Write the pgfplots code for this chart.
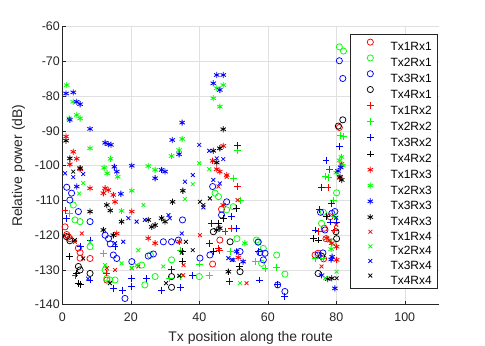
\documentclass[border=0pt]{standalone}
\usepackage{pgfplots}
\pgfplotsset{compat=1.18}
\usepackage{fontspec}
\setmainfont{Liberation Sans}
\begin{document}
\begin{tikzpicture}
\path[use as bounding box] (0,0) rectangle (485bp,346bp);
\begin{axis}[
  at={(62.3bp,41.3bp)}, anchor=south west,
  scale only axis, width=376.7bp, height=278bp,
  xmin=0, xmax=110, ymin=-140, ymax=-60,
  xtick={0,20,...,100}, ytick={-140,-130,...,-60},
  axis x line*=bottom, axis y line*=left,
  axis line style={-, black!85, line width=0.5bp},
  tick align=inside, major tick length=3.5bp,
  tick style={black!85, line width=0.5bp},
  grid=major, major grid style={black!12, line width=0.5bp},
  /pgf/number format/assume math mode=true,
  every tick label/.append style={font=\fontsize{12.5}{14}\selectfont, text=black!85},
  xticklabel style={yshift=-5bp},
  yticklabel style={xshift=1bp},
  xlabel={Tx position along the route}, ylabel={Relative power (dB)},
  label style={font=\fontsize{14}{16}\selectfont, text=black!85},
  xlabel style={at={(axis description cs:0.5,-0.1209)}, anchor=center},
  ylabel style={at={(axis description cs:-0.1163,0.5)}, anchor=center},
  legend style={at={(rel axis cs:0.9947,0.9727)}, anchor=north east,
    draw=black!85, line width=0.5bp, fill=white,
    font=\fontsize{12}{13}\selectfont, text=black,
    inner xsep=5bp, inner ysep=4.5bp, row sep=4.1bp,
    nodes={inner sep=0pt, text height=8.6bp, text depth=0bp},
    /tikz/every odd column/.append style={column sep=6bp}},
  legend cell align=left,
  legend image code/.code={\path (0bp,0bp) (29bp,0bp); \draw[#1] plot coordinates {(15bp,4.3bp)};},
  omark/.style={only marks, mark=o, mark size=3.1bp, mark options={line width=0.75bp}},
  pmark/.style={only marks, mark=+, mark size=3.4bp, mark options={line width=0.8bp}},
  smark/.style={only marks, mark=asterisk, mark size=3.1bp, mark options={line width=0.85bp}},
  xmark/.style={only marks, mark=x, mark size=2.7bp, mark options={line width=0.8bp}},
]
% Tx1Rx1 red o
\addplot[omark, red] coordinates {(0.8,-117.6)(1.3,-119.8)(1.8,-120.5)(2.2,-121)(4.7,-123.7)(5.2,-125)(5.2,-126.6)(8.1,-126.7)(13,-132.9)(43.9,-128.3)(46,-121.4)(46.5,-112.5)(78.2,-114.7)(73.8,-125.7)(74.7,-125.2)(76.3,-126.8)(77,-121)(80.9,-89)(76.5,-118)};
\addlegendentry{Tx1Rx1}
% Tx2Rx1 green o
\addplot[omark, green] coordinates {(3.7,-115.6)(5.2,-116.1)(3.2,-111.3)(8.1,-123.3)(12.5,-130)(13,-132.4)(13.9,-132.9)(15.4,-132.9)(23.2,-128.6)(25.7,-125.7)(24.1,-134.3)(27.1,-131.9)(31.9,-127.1)(40,-131.9)(44.6,-107.9)(45.6,-108.9)(48,-112.7)(49.9,-111.8)(57.2,-121.9)(56.7,-121.4)(58.7,-123.8)(58.2,-128.1)(62.6,-125.7)(65,-131.2)(75.7,-116.6)(76.2,-113.4)(80.1,-107.8)(80.9,-65.8)(82.1,-67)(79,-122)(51,-121)};
\addlegendentry{Tx2Rx1}
% Tx3Rx1 blue o
\addplot[omark, blue] coordinates {(1.3,-106.2)(2.7,-107.9)(2.2,-109.9)(4.7,-113.2)(8.1,-116.1)(12.5,-120)(13.5,-121)(14,-122.5)(14.9,-125.7)(15.9,-126.7)(18.3,-138.2)(20.3,-127.6)(25.1,-126)(26.6,-125.4)(29.5,-121.9)(31.9,-121.9)(33.9,-121.4)(35.1,-115.6)(40.2,-126.6)(43.1,-125.7)(43.9,-106)(46.5,-114.2)(48,-110.4)(51.9,-124.7)(57.2,-122)(57.7,-125)(59.2,-125.2)(58.7,-127.1)(62.9,-134.3)(65,-136.2)(74.7,-125.7)(76.1,-125.1)(75.4,-113.4)(78.7,-113.7)(79.6,-113.2)(76.7,-118.5)(80.9,-69.8)(81.9,-74.9)};
\addlegendentry{Tx3Rx1}
% Tx4Rx1 black o
\addplot[omark, black] coordinates {(1.2,-120.4)(2.2,-121.6)(4.7,-129)(5.2,-130)(8.1,-131)(31.9,-131.9)(31.9,-135)(44.1,-119)(49,-121.9)(51.9,-130.5)(75.7,-126)(74.7,-131)(79.9,-119)(80.1,-121)(81.9,-86.8)(80.6,-88.6)};
\addlegendentry{Tx4Rx1}
% Tx1Rx2 red +
\addplot[pmark, red] coordinates {(0.8,-113)(3.7,-131.7)(12.9,-130.9)(45.6,-123.8)(46,-124.3)(49.5,-118)(51.2,-106)(74.9,-119)(79.4,-118.5)(77.6,-106.2)(47.5,-119)(78,-101)};
\addlegendentry{Tx1Rx2}
% Tx2Rx2 green +
\addplot[pmark, green] coordinates {(2.2,-113.7)(12,-125.2)(34.4,-124.3)(34.4,-131.9)(31.4,-132.4)(40,-128.3)(43.1,-131.5)(49.9,-103.6)(52,-109.9)(51.2,-95.7)(49,-124.7)(56.3,-127.6)(59.2,-129.5)(62.6,-129.2)(79.1,-109.9)(79.6,-114.7)(73.8,-126.7)(76.1,-126.7)(81.1,-91.2)(82.1,-91.5)(76.7,-103)(77.7,-103.3)};
\addlegendentry{Tx2Rx2}
% Tx3Rx2 blue +
\addplot[pmark, blue] coordinates {(1.3,-115.1)(5.2,-123.3)(8.1,-121.4)(8.1,-132.9)(14.9,-135.3)(15.4,-123.3)(17.5,-135.8)(20.3,-132.5)(20.3,-134.8)(24.6,-132.4)(29,-135.8)(31.9,-129.8)(34.4,-135)(38.1,-131.7)(43.1,-122.3)(43.6,-116.6)(49.5,-114.7)(50.9,-118)(48.8,-133.4)(51.2,-94.3)(57.2,-124.7)(57.7,-132.9)(62.9,-134.3)(65,-137.7)(73.8,-118.5)(75.2,-112.7)(78.7,-110.8)(78.3,-116.2)(80.1,-116.2)(75.7,-106.2)(80.9,-94.5)(77,-98.4)};
\addlegendentry{Tx3Rx2}
% Tx4Rx2 black +
\addplot[pmark, black] coordinates {(2.2,-126.2)(4.2,-131)(4.7,-133.8)(5.2,-134.3)(35.1,-124.7)(35.1,-127.6)(44.1,-124.7)(47,-115.1)(45.6,-116.6)(50.9,-112.3)(51.7,-129)(77.2,-114.7)(73.3,-120.9)(74.8,-121.4)};
\addlegendentry{Tx4Rx2}
% Tx1Rx3 red *
\addplot[smark, red] coordinates {(1.1,-91.6)(3.2,-96)(4.2,-98)(2.2,-99.6)(5.2,-101)(8.1,-106.5)(12,-107.9)(13.4,-107)(12.5,-106.5)(14.9,-108.4)(15.4,-110.4)(20.3,-113.2)(15.9,-119.5)(27.1,-122.3)(25.1,-120.9)(34.2,-121.9)(47,-94.3)(43.9,-98.6)(45.1,-101)(46,-101.7)(48,-102.7)(47,-111.3)(51.4,-126.4)(80.1,-127.1)(77.2,-120.9)(78.7,-122.3)(80.1,-123.3)(81,-103.5)(81.5,-99.5)};
\addlegendentry{Tx1Rx3}
% Tx2Rx3 green *
\addplot[smark, green] coordinates {(1.3,-76.8)(3.2,-81.6)(2,-86.4)(4.2,-85.4)(5.2,-86.4)(8.1,-95)(14.1,-98)(12.2,-100.6)(13.1,-102.2)(16.2,-103.2)(20.3,-107.2)(17.3,-113)(25.1,-100.1)(27.1,-101.2)(35,-92.3)(34.1,-95.5)(31.9,-97.2)(47,-76.8)(45.1,-77.7)(44.1,-80.6)(46,-83)(53.3,-122.3)(81.5,-97.5)(81,-98.5)(80,-102)(81.9,-100)(78.5,-124)};
\addlegendentry{Tx2Rx3}
% Tx3Rx3 blue *
\addplot[smark, blue] coordinates {(1.1,-79.2)(3.2,-78.9)(4.2,-81.6)(5.2,-82.3)(2.2,-86.8)(8.1,-89.4)(12.5,-93.4)(13.4,-93.8)(14.2,-94)(15.2,-100.3)(15.9,-101.7)(20.3,-100)(29,-101.2)(30,-101.7)(27.1,-103.6)(35,-87.6)(32.1,-92.6)(34.1,-96.7)(45.1,-73.9)(47,-73.9)(44.1,-76.3)(46,-78.2)(4.2,-106)(17.1,-108.1)(50.9,-124.7)(52.8,-127.6)(75.7,-131.5)(79.6,-135.3)(78.5,-127)(78.8,-126.2)(81.3,-100.5)(80.5,-101.5)};
\addlegendentry{Tx3Rx3}
% Tx4Rx3 black *
\addplot[smark, black] coordinates {(1.1,-92.8)(2.2,-97.9)(5.2,-100.7)(13,-111.3)(14,-112.9)(8.1,-113.2)(17.3,-116.1)(12,-118.5)(14.9,-120)(29,-115.1)(30,-116.1)(26.1,-117.6)(27.1,-117.1)(25.1,-115.6)(35.2,-107.2)(32.2,-110.4)(47,-89.5)(46,-95)(44.1,-95.7)(45.1,-99.1)(46,-118)(45.1,-118.5)(48.5,-130.5)(77.5,-132.6)(78.7,-132.4)(81.1,-103.2)(81.6,-104.1)};
\addlegendentry{Tx4Rx3}
% Tx1Rx4 red x
\addplot[xmark, red] coordinates {(3.7,-121.9)(5.7,-119.5)(13,-129.5)(15.4,-130)(20.3,-129.5)(22.2,-129)(35.4,-128.6)(35.3,-131.5)(40.2,-120)(45.6,-106)(48,-103.2)(51.2,-109.9)(53.8,-133.8)(75.7,-129)(78,-121.5)(80,-117)};
\addlegendentry{Tx1Rx4}
% Tx2Rx4 green x
\addplot[xmark, green] coordinates {(6.1,-105)(4.9,-108)(23.7,-111.3)(12.5,-128.6)(17.3,-128.1)(20.3,-129.4)(21.7,-128.6)(22.2,-124.3)(29.5,-129)(35.8,-109.6)(38.1,-105.3)(40,-99.3)(42.9,-101)(51.9,-133.8)(80.1,-130.5)(76.7,-132.4)(8.1,-122)};
\addlegendentry{Tx2Rx4}
% Tx3Rx4 blue x
\addplot[xmark, blue] coordinates {(0.8,-102.2)(3.2,-103.3)(6.1,-102.4)(19.3,-115.1)(21.7,-116.1)(24.1,-115.6)(17.8,-121.9)(15.4,-122.3)(31,-114.2)(31.4,-115.1)(34.9,-119.5)(35.8,-104.6)(38.1,-102.7)(40,-94)(42.9,-95.7)(45.1,-97.9)(47,-98.1)(44.1,-104.1)(46,-105.1)(41.2,-112)(48.5,-126.6)(49.5,-127.1)(50,-127.1)(7.5,-132.5)(80,-115)};
\addlegendentry{Tx3Rx4}
% Tx4Rx4 black x
\addplot[xmark, black] coordinates {(3.2,-101.7)(3.7,-121.4)(6.1,-126.7)(13.9,-133.8)(30.3,-133.8)(34.2,-131.7)(34.9,-125)(36.1,-121.9)(38.1,-124.3)(40.2,-110.4)(41.2,-111.3)(43.1,-109.4)(80.1,-132.4)};
\addlegendentry{Tx4Rx4}
\end{axis}
\end{tikzpicture}
\end{document}
